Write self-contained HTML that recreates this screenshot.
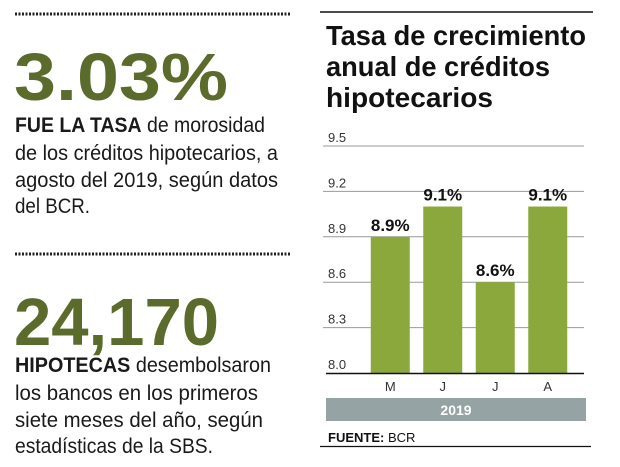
<!DOCTYPE html>
<html><head><meta charset="utf-8"><style>
html,body{margin:0;padding:0;background:#fff;}
svg{display:block;font-family:"Liberation Sans",sans-serif;}
</style></head><body>
<svg width="620" height="467" viewBox="0 0 620 467">
<g>
<line x1="15" y1="14" x2="290" y2="14" stroke="#222" stroke-width="3" stroke-dasharray="2,1.5"/>
<text x="14" y="100" font-size="67" font-weight="bold" fill="#5b6b2b" textLength="214" lengthAdjust="spacingAndGlyphs">3.03%</text>
<g font-size="21" fill="#1a1a1a">
<text x="15" y="132" textLength="250" lengthAdjust="spacingAndGlyphs"><tspan font-weight="bold">FUE LA TASA</tspan> de morosidad</text>
<text x="15" y="160" textLength="263" lengthAdjust="spacingAndGlyphs">de los créditos hipotecarios, a</text>
<text x="15" y="187" textLength="263" lengthAdjust="spacingAndGlyphs">agosto del 2019, según datos</text>
<text x="15" y="213" textLength="75" lengthAdjust="spacingAndGlyphs">del BCR.</text>
</g>
<line x1="15" y1="254" x2="290" y2="254" stroke="#222" stroke-width="3" stroke-dasharray="2,1.5"/>
<text x="14" y="345" font-size="67" font-weight="bold" fill="#5b6b2b" textLength="205" lengthAdjust="spacingAndGlyphs">24,170</text>
<g font-size="21" fill="#1a1a1a">
<text x="15" y="372" textLength="256" lengthAdjust="spacingAndGlyphs"><tspan font-weight="bold">HIPOTECAS</tspan> desembolsaron</text>
<text x="15" y="400" textLength="243" lengthAdjust="spacingAndGlyphs">los bancos en los  primeros</text>
<text x="15" y="427" textLength="248" lengthAdjust="spacingAndGlyphs">siete meses del año,  según</text>
<text x="15" y="453" textLength="198" lengthAdjust="spacingAndGlyphs">estadísticas de la SBS.</text>
</g>
</g>
<g>
<line x1="320" y1="12" x2="593" y2="12" stroke="#111" stroke-width="1.5"/>
<g font-size="28" font-weight="bold" fill="#111">
<text x="326" y="45" textLength="260" lengthAdjust="spacingAndGlyphs">Tasa de crecimiento</text>
<text x="326" y="76" textLength="224" lengthAdjust="spacingAndGlyphs">anual de créditos</text>
<text x="326" y="107" textLength="167" lengthAdjust="spacingAndGlyphs">hipotecarios</text>
</g>
<g id="grid"></g>
<g id="bars"></g>
<line x1="326" y1="373.5" x2="584" y2="373.5" stroke="#111" stroke-width="1.5"/>
<rect x="326" y="398" width="260" height="23" fill="#95a3a4"/>
<text x="456" y="415" text-anchor="middle" font-size="14" font-weight="bold" fill="#fff">2019</text>
<text x="328" y="442" font-size="13" fill="#111"><tspan font-weight="bold">FUENTE:</tspan> BCR</text>
<line x1="320" y1="446.5" x2="591" y2="446.5" stroke="#111" stroke-width="1.2"/>
</g>
</svg>
<script>
const categories = ["M","J","J","A"];
const values = [8.9, 9.1, 8.6, 9.1];
const valueLabels = ["8.9%","9.1%","8.6%","9.1%"];
const ticks = [8.0, 8.3, 8.6, 8.9, 9.2, 9.5];
const tickLabels = ["8.0","8.3","8.6","8.9","9.2","9.5"];

const NS = "http://www.w3.org/2000/svg";
const y0 = 373, y1 = 146, vMin = 8.0, vMax = 9.5;
function yScale(v){ return y0 - (v - vMin) / (vMax - vMin) * (y0 - y1); }
const bandX = 364, bandW = 52.5, barW = 39;
function xScale(i){ return bandX + i * bandW + (bandW - barW) / 2; }

const grid = document.getElementById("grid");
ticks.forEach((t, i) => {
  const y = yScale(t);
  if (i > 0) {
    const l = document.createElementNS(NS, "line");
    l.setAttribute("x1", 323); l.setAttribute("x2", 584);
    l.setAttribute("y1", y); l.setAttribute("y2", y);
    l.setAttribute("stroke", "#999"); l.setAttribute("stroke-width", "1");
    
    
    grid.appendChild(l);
  }
  const tx = document.createElementNS(NS, "text");
  tx.setAttribute("x", 328); tx.setAttribute("y", y - 4);
  tx.setAttribute("font-size", "13"); tx.setAttribute("fill", "#333");
  tx.textContent = tickLabels[i];
  
  
  grid.appendChild(tx);
});

const bars = document.getElementById("bars");
values.forEach((v, i) => {
  const x = xScale(i), y = yScale(v);
  const r = document.createElementNS(NS, "rect");
  r.setAttribute("x", x); r.setAttribute("y", y);
  r.setAttribute("width", barW); r.setAttribute("height", y0 - y);
  r.setAttribute("fill", "#8aa83c");
  
  
  bars.appendChild(r);
  const vl = document.createElementNS(NS, "text");
  vl.setAttribute("x", x + barW / 2); vl.setAttribute("y", y - 6);
  vl.setAttribute("text-anchor", "middle"); vl.setAttribute("font-size", "17");
  vl.setAttribute("font-weight", "bold"); vl.setAttribute("fill", "#111");
  vl.textContent = valueLabels[i];
  
  
  bars.appendChild(vl);
  const cl = document.createElementNS(NS, "text");
  cl.setAttribute("x", x + barW / 2); cl.setAttribute("y", 391);
  cl.setAttribute("text-anchor", "middle"); cl.setAttribute("font-size", "13");
  cl.setAttribute("fill", "#333");
  cl.textContent = categories[i];
  
  
  bars.appendChild(cl);
});
</script>
</body></html>
